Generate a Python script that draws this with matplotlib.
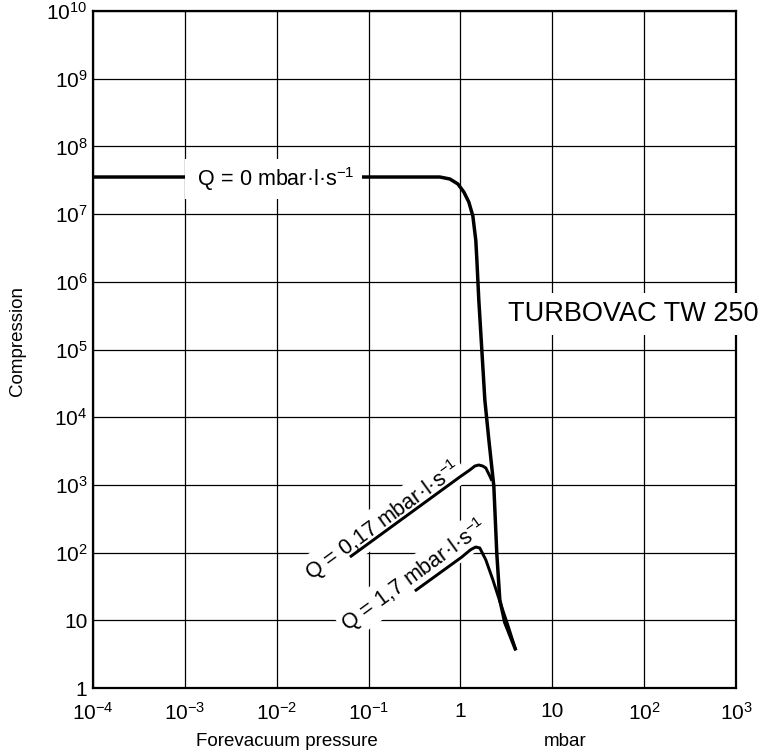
import matplotlib
matplotlib.use("Agg")
import matplotlib.pyplot as plt

plt.rcParams['font.family'] = ['Liberation Sans', 'DejaVu Sans']
plt.rcParams['mathtext.fontset'] = 'custom'
plt.rcParams['mathtext.rm'] = 'Liberation Sans'
plt.rcParams['mathtext.it'] = 'Liberation Sans'
plt.rcParams['mathtext.bf'] = 'Liberation Sans'

# ---- data ----
x_ticks = [1e-4, 1e-3, 1e-2, 1e-1, 1, 10, 1e2, 1e3]
x_ticklabels = [r'$\mathregular{10^{-4}}$', r'$\mathregular{10^{-3}}$', r'$\mathregular{10^{-2}}$',
                r'$\mathregular{10^{-1}}$', '1', '10', r'$\mathregular{10^{2}}$', r'$\mathregular{10^{3}}$']
y_ticks = [1, 10, 1e2, 1e3, 1e4, 1e5, 1e6, 1e7, 1e8, 1e9, 1e10]
y_ticklabels = ['1', '10'] + [r'$\mathregular{10^{%d}}$' % k for k in range(2, 11)]

# Q = 0 mbar l/s
q0_p = [1e-4, 0.597, 0.767, 0.937, 1.089, 1.233, 1.365, 1.47, 1.51, 1.585, 1.71, 1.845, 2.04,
        2.31, 2.49, 2.685, 3.04, 4.01]
q0_c = [3.53e7, 3.53e7, 3.3e7, 2.79e7, 2.12e7, 1.51e7, 9.4e6, 4.1e6, 2.1e6, 5.4e5, 9.8e4, 1.78e4, 4.6e3,
        955, 95, 20, 9.3, 3.6]

# Q = 0.17 mbar l/s
q017_p = [0.0627, 0.984, 1.265, 1.436, 1.585, 1.75, 1.89, 2.09, 2.2]
q017_c = [86, 1309, 1660, 1900, 1968, 1900, 1778, 1349, 1150]

# Q = 1.7 mbar l/s
q17_p = [0.319, 1.035, 1.265, 1.33, 1.47, 1.625, 1.89, 2.25, 2.685, 3.28, 4.01]
q17_c = [27.1, 86, 108, 113, 121, 117, 78, 40, 19, 8.5, 3.6]

fig = plt.figure(figsize=(7.63, 7.55), dpi=100)
ax = fig.add_axes([93/763, (755-688)/755, (736-93)/763, (688-11)/755])
ax.set_xscale('log')
ax.set_yscale('log')
ax.set_xlim(1e-4, 1e3)
ax.set_ylim(1, 1e10)

ax.set_xticks(x_ticks)
ax.set_xticklabels(x_ticklabels)
ax.set_yticks(y_ticks)
ax.set_yticklabels(y_ticklabels)
ax.minorticks_off()
ax.tick_params(axis='both', length=0, labelsize=15)
ax.tick_params(axis='x', pad=10)
ax.tick_params(axis='y', pad=4)

ax.set_axisbelow(True)
ax.grid(True, which='major', color='black', lw=0.9)
for s in ax.spines.values():
    s.set_linewidth(1.6)
    s.set_zorder(2.5)

lw = 2.5
ax.plot(q0_p, q0_c, color='black', lw=lw, zorder=2, solid_capstyle='butt', solid_joinstyle='round')
ax.plot(q017_p, q017_c, color='black', lw=lw * 0.85, zorder=2, solid_capstyle='butt', solid_joinstyle='round')
ax.plot(q17_p, q17_c, color='black', lw=lw * 0.85, zorder=2, solid_capstyle='butt', solid_joinstyle='round')

ax.text(0.0093, 3.3e7, r' Q = 0 mbar·l·s$^{\mathregular{-1}}$ ', ha='center', va='center', fontsize=15.5,
        zorder=3, bbox=dict(facecolor='white', edgecolor='none', boxstyle='square,pad=0.3'))
ax.text(0.143, 293, r'Q = 0,17 mbar·l·s$^{\mathregular{-1}}$', ha='center', va='center', fontsize=15.5,
        rotation=36, rotation_mode='anchor', zorder=1.5,
        bbox=dict(facecolor='white', edgecolor='none', boxstyle='square,pad=0.15'))
ax.text(0.319, 46.7, r'Q = 1,7 mbar·l·s$^{\mathregular{-1}}$', ha='center', va='center', fontsize=15.5,
        rotation=36, rotation_mode='anchor', zorder=1.5,
        bbox=dict(facecolor='white', edgecolor='none', boxstyle='square,pad=0.15'))
ax.text(75.2, 3.35e5, 'TURBOVAC TW 250', ha='center', va='center', fontsize=19.5, zorder=3,
        clip_on=False, bbox=dict(facecolor='white', edgecolor='none', boxstyle='square,pad=0.3'))

ax.text((287-93)/643, (688-742)/677, 'Forevacuum pressure', transform=ax.transAxes,
        ha='center', va='center', fontsize=13.5)
ax.text((565-93)/643, (688-742)/677, 'mbar', transform=ax.transAxes,
        ha='center', va='center', fontsize=13.5)
ax.text((18-93)/643, (688-341)/677, 'Compression', transform=ax.transAxes,
        ha='center', va='center', fontsize=13.5, rotation=90)

fig.savefig('out.png', dpi=100)
